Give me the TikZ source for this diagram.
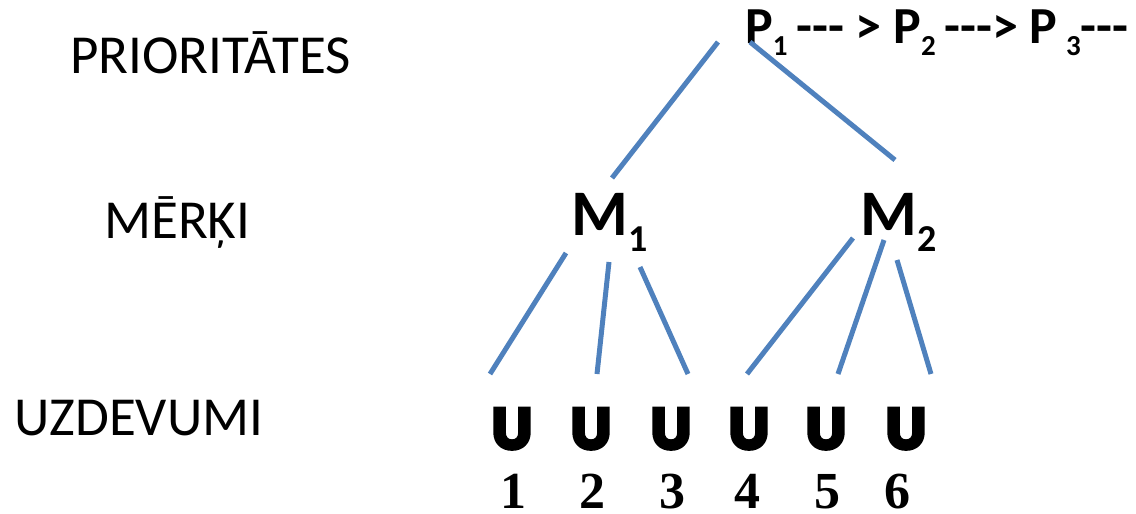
\documentclass[tikz,border=0pt]{standalone}
\usepackage{fontspec}
\setmainfont{Carlito}
\newfontfamily\tnr{Liberation Serif}
\newfontfamily\uheavy{Carlito}[FakeBold=8]
\definecolor{lineblue}{HTML}{4F81BD}
\tikzset{
  lbl/.style={anchor=base west,inner sep=0pt,font=\fontsize{55}{55}\selectfont},
  ubox/.style={anchor=base,inner sep=0pt,text depth=0pt,font=\fontsize{60}{60}\selectfont\uheavy\bfseries},
  numbox/.style={anchor=base,inner sep=0pt,text depth=0pt,font=\fontsize{52}{52}\selectfont\tnr\bfseries},
  link/.style={draw=lineblue,line width=5pt},
  gbox/.style={anchor=base west,inner sep=0pt,font=\fontsize{65}{65}\selectfont\bfseries},
}
\newcommand{\sbd}[3]{\raisebox{-#2pt}{\fontsize{#1}{#1}\selectfont #3}}
\begin{document}
\begin{tikzpicture}[x=1pt,y=-1pt]
\useasboundingbox (0,0) rectangle (1136,514);
% level labels
\node[lbl] (lp) at (70,73) {PRIORITĀTES};
\node[lbl] (lm) at (104,238) {MĒRĶI};
\node[lbl] (lu) at (14,435) {UZDEVUMI};
% priorities
\node[anchor=base west,inner sep=0pt,font=\fontsize{52}{52}\selectfont\bfseries] (p) at (745,43)
  {P\sbd{29}{12}{1}\,-{}-{}- > P\sbd{29}{12}{2}\,-{}-{}-> P\,\sbd{29}{12}{3}-{}-{}-};
% goals
\node[gbox] (m1) at (571,235) {M\sbd{38}{16}{1}};
\node[gbox] (m2) at (860,235) {M\sbd{38}{16}{2}};
% tasks
\foreach \i/\x/\nx in {1/512/513,2/591/592,3/671/672,4/749/747,5/826/827,6/906/897}{
  \node[ubox] (u\i) at (\x,448) {U};
  \node[numbox] (n\i) at (\nx,508) {\i};
}
% connector end points
\coordinate (pa) at (718,42);
\coordinate (pb) at (750,42);
\coordinate (m1t) at (612,178);
\coordinate (m2t) at (895,160);
\coordinate (m1a) at (566,253);
\coordinate (m1b) at (609,262);
\coordinate (m1c) at (640,267);
\coordinate (m2a) at (853,238);
\coordinate (m2b) at (884,240);
\coordinate (m2c) at (897,260);
\coordinate (u1t) at (490,374);
\coordinate (u2t) at (597,374);
\coordinate (u3t) at (688,374);
\coordinate (u4t) at (747,374);
\coordinate (u5t) at (838,374);
\coordinate (u6t) at (931,374);
\draw[link] (pa) -- (m1t);
\draw[link] (pb) -- (m2t);
\draw[link] (m1a) -- (u1t);
\draw[link] (m1b) -- (u2t);
\draw[link] (m1c) -- (u3t);
\draw[link] (m2a) -- (u4t);
\draw[link] (m2b) -- (u5t);
\draw[link] (m2c) -- (u6t);
\end{tikzpicture}
\end{document}
